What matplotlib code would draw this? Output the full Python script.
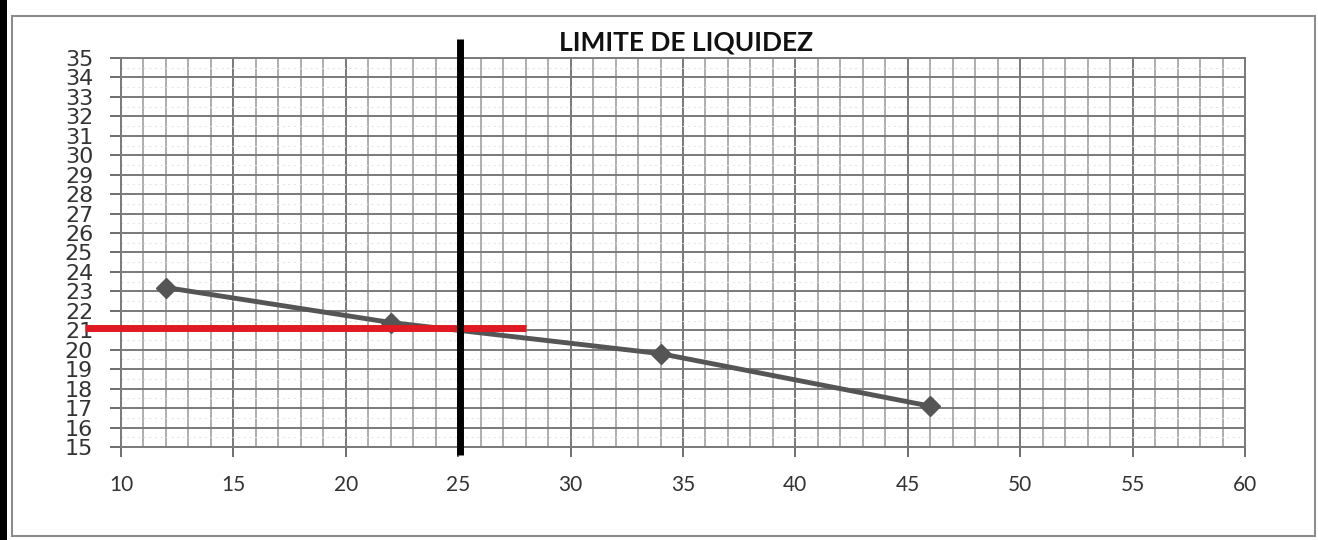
import matplotlib.pyplot as plt
from matplotlib.patches import Rectangle
from matplotlib.lines import Line2D
from matplotlib.ticker import MultipleLocator

# golpes vs humedad
golpes = [12, 22, 34, 46]
humedad = [23.2, 21.4, 19.8, 17.1]

# lineas de referencia (25 golpes -> limite liquido)
ref_golpes = 25.1
ref_golpes_span = [14.6, 36.0]
ref_humedad = 21.1
ref_humedad_span = [8.4, 28.0]

x_ticks = [10, 15, 20, 25, 30, 35, 40, 45, 50, 55, 60]
y_ticks = list(range(15, 36))
title = "LIMITE DE LIQUIDEZ"

fig = plt.figure(figsize=(13.18, 5.40), dpi=100)
fig.patch.set_facecolor("white")

# chart frame
W, H = 1318, 540
fig.add_artist(Rectangle((0, 0), 7 / W, 1, transform=fig.transFigure,
                         facecolor="black", edgecolor="none"))
fig.add_artist(Rectangle((12 / W, 4 / H), 1303 / W, 520 / H, transform=fig.transFigure,
                         facecolor="none", edgecolor="#8c8c8c", linewidth=1.5))

ax = fig.add_axes([121 / W, 1 - 447 / H, (1245 - 121) / W, (447 - 58) / H])
ax.set_xlim(10, 60)
ax.set_ylim(15, 35)
ax.set_xticks(x_ticks)
ax.set_yticks(y_ticks)
ax.xaxis.set_minor_locator(MultipleLocator(1))
ax.yaxis.set_minor_locator(MultipleLocator(0.5))

ax.grid(which="minor", axis="x", color="#a8a8a8", linewidth=1.3)
ax.grid(which="major", axis="x", color="#6e6e6e", linewidth=1.3)
ax.grid(which="major", axis="y", color="#7a7a7a", linewidth=1.4)
ax.grid(which="minor", axis="y", color="#e6e6e6", linewidth=0.8, linestyle=(0, (2, 3)))
ax.set_axisbelow(True)

for s in ax.spines.values():
    s.set_color("#7a7a7a")
    s.set_linewidth(1.4)

ax.tick_params(axis="y", which="major", direction="out", length=8, width=1.2,
               color="#555555", pad=12, labelsize=16, labelcolor="#333333")
ax.tick_params(axis="x", which="major", direction="out", length=7, width=1.2,
               color="#555555", pad=13, labelsize=15, labelcolor="#333333")
ax.tick_params(which="minor", length=0)
for lab in ax.get_yticklabels():
    lab.set_family(["Liberation Sans Narrow", "DejaVu Sans"])
for lab in ax.get_xticklabels():
    lab.set_family(["Lato", "DejaVu Sans"])

ax.plot(golpes, humedad, color="#555555", linewidth=3.5, marker="D",
        markersize=10, markerfacecolor="#555555", markeredgecolor="#555555", zorder=4)

ax.add_line(Line2D(ref_humedad_span, [ref_humedad, ref_humedad], color="#e01a22",
                   linewidth=5, clip_on=False, zorder=5, solid_capstyle="butt"))
ax.add_line(Line2D([ref_golpes, ref_golpes], ref_golpes_span, color="black",
                   linewidth=5, clip_on=False, zorder=6, solid_capstyle="butt"))

fig.text(686 / W, 1 - 43 / H, title, ha="center", va="center", fontsize=19,
         fontweight="bold", family=["Lato", "DejaVu Sans"], color="#111111")

fig.savefig("out.png", dpi=100)
